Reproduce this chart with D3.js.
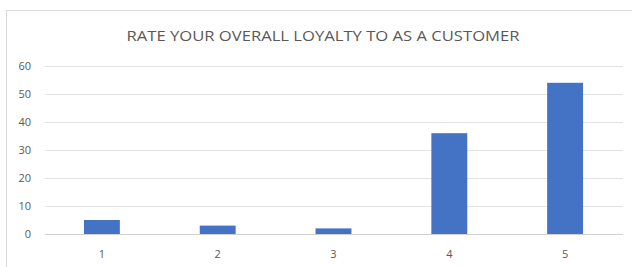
<!DOCTYPE html>
<html>
<head>
<meta charset="utf-8">
<script src="https://cdn.jsdelivr.net/npm/d3@7"></script>
<style>
  body { margin: 0; background: #fff; }
  text { font-family: "Open Sans", "Liberation Sans", sans-serif; fill: #595959; }
</style>
</head>
<body>
<svg id="chart"></svg>
<script>
const ratings = ["1", "2", "3", "4", "5"]
const counts  = [5, 3, 2, 36, 54]
const yTicks  = [0, 10, 20, 30, 40, 50, 60]
const title   = "RATE YOUR OVERALL LOYALTY TO AS A CUSTOMER"

const width = 632
const height = 267
const margin = { top: 66, right: 9, bottom: 33, left: 44 }

const svg = d3.select("#chart")
  .attr("width", width)
  .attr("height", height)

// chart area frame (only left and top are inside the picture)
svg.append("rect")
  .attr("x", 6.5).attr("y", 10.5)
  .attr("width", width + 20).attr("height", height + 20)
  .attr("fill", "none")
  .attr("stroke", "#d9d9d9")

const x = d3.scaleBand()
  .domain(ratings)
  .range([margin.left, width - margin.right])
  .paddingInner(0.69)
  .paddingOuter(0.345)

const y = d3.scaleLinear()
  .domain([0, 60])
  .range([height - margin.bottom, margin.top])

// gridlines
svg.append("g")
  .selectAll("line")
  .data(yTicks)
  .join("line")
    .attr("x1", margin.left + 1)
    .attr("x2", width - margin.right)
    .attr("y1", d => Math.round(y(d)) + 0.5)
    .attr("y2", d => Math.round(y(d)) + 0.5)
    .attr("stroke", d => d === 0 ? "#d0d0d0" : "#e3e3e3")
    .attr("stroke-width", 1)

// y labels
svg.append("g")
  .selectAll("text")
  .data(yTicks)
  .join("text")
    .attr("x", 31)
    .attr("y", d => y(d))
    .attr("dy", "0.35em")
    .attr("text-anchor", "end")
    .style("font-size", "11px")
    .text(d => d)

// bars
svg.append("g")
  .selectAll("rect")
  .data(counts)
  .join("rect")
    .attr("x", (d, i) => x(ratings[i]))
    .attr("y", d => y(d))
    .attr("width", x.bandwidth())
    .attr("height", d => y(0) - y(d))
    .attr("fill", "#4472c4")

// x labels
svg.append("g")
  .selectAll("text")
  .data(ratings)
  .join("text")
    .attr("x", d => x(d) + x.bandwidth() / 2)
    .attr("y", 258)
    .attr("text-anchor", "middle")
    .style("font-size", "11px")
    .text(d => d)

// title
svg.append("text")
  .attr("x", 323)
  .attr("y", 41)
  .attr("text-anchor", "middle")
  .attr("textLength", 393)
  .attr("lengthAdjust", "spacingAndGlyphs")
  .style("font-size", "15px")
  .text(title)
</script>
</body>
</html>
